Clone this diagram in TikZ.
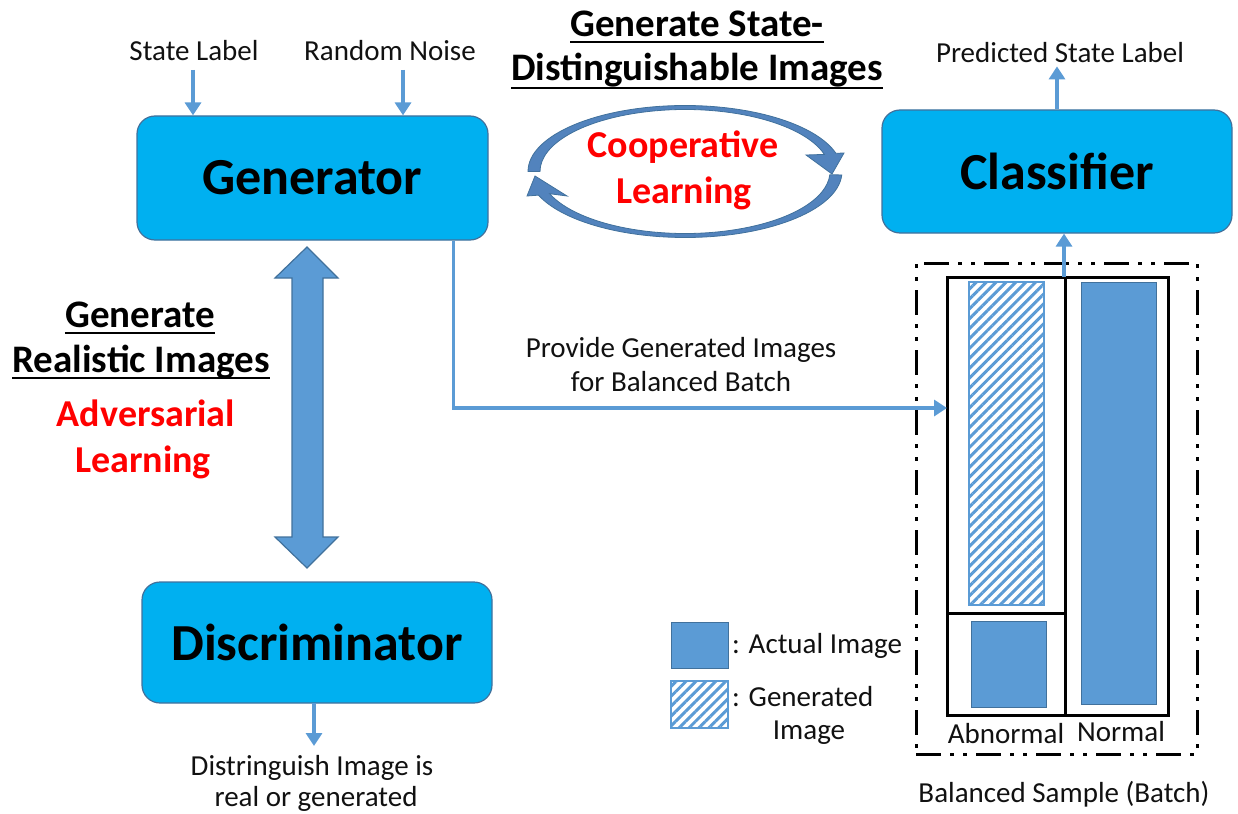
\documentclass[tikz,border=0pt]{standalone}
\usepackage{fontspec}
\setmainfont{Carlito}
\usetikzlibrary{arrows.meta,patterns.meta,calc}
\definecolor{boxfill}{HTML}{00B0F0}
\definecolor{boxedge}{HTML}{41719C}
\definecolor{flowblue}{HTML}{5B9BD5}
\definecolor{coopblue}{HTML}{5283BD}
\definecolor{hotred}{HTML}{FF0000}
\definecolor{ink}{HTML}{111111}
\begin{document}
\begin{tikzpicture}[x=1pt,y=-1pt,
  block/.style={draw=boxedge, line width=1.2pt, fill=boxfill, rounded corners=18pt,
    font=\fontsize{52}{60}\selectfont\bfseries, text=black, inner sep=0},
  lbl/.style={font=\fontsize{29}{34}\selectfont, text=ink, inner sep=0, anchor=base},
  head/.style={font=\fontsize{39}{46}\selectfont\bfseries, text=black, inner sep=0, anchor=base},
  redtxt/.style={font=\fontsize{38}{46}\selectfont\bfseries, text=hotred, inner sep=0, anchor=base},
  uline/.style={draw=black, line width=2.4pt},
  flow/.style={draw=flowblue, line width=3.5pt, -{Triangle[width=16pt,length=13pt]}},
  solidimg/.style={fill=flowblue, draw=boxedge, line width=1pt},
  hatchimg/.style={draw=flowblue, line width=1.5pt,
    pattern={Lines[angle=45,distance=7pt,line width=3pt]}, pattern color=flowblue},
  batchline/.style={draw=black, line width=3pt},
  coop/.style={fill=coopblue, draw=boxedge, line width=0.8pt},
  bigarrow/.style={fill=flowblue, draw=boxedge, line width=1.2pt},
]
\useasboundingbox (0,0) rectangle (1238,813);

% --- main blocks
\node[block, minimum width=351pt, minimum height=124pt] (gen) at (312.5,178) {Generator};
\node[block, minimum width=350pt, minimum height=123pt] (cls) at (1057,171.5) {Classifier};
\node[block, minimum width=350pt, minimum height=121pt] (dis) at (317,642.5) {Discriminator};

% --- generator inputs
\node[lbl] (slabel) at (194,61) {State Label};
\node[lbl] (rnoise) at (390,61) {Random Noise};
\coordinate (slin) at (193,70);
\coordinate (rnin) at (403,70);
\draw[flow] (slin) -- (slin |- gen.north);
\draw[flow] (rnin) -- (rnin |- gen.north);

% --- classifier output
\node[lbl] (pred) at (1060,63) {Predicted State Label};
\draw[flow] (cls.north) -- ++(0,-43);

% --- cooperative learning loop
\coordinate (cc) at (685,171.5);
\fill[coop] ($(cc)+(180:157 and 66)$) arc[start angle=180,end angle=344,x radius=157,y radius=66]
  -- (844,153) -- (832,174) -- (806,155)
  -- ($(cc)+(344:145 and 62)$) arc[start angle=344,end angle=180,x radius=145,y radius=62] -- cycle;
\fill[coop] ($(cc)+(3:157 and 66)$) arc[start angle=3,end angle=159,x radius=157,y radius=66]
  -- (527,196) -- (535,176) -- (567,196)
  -- ($(cc)+(159:145 and 62)$) arc[start angle=159,end angle=3,x radius=145,y radius=62] -- cycle;
\node[redtxt] (c1) at (683,158) {Cooperative};
\node[redtxt] (c2) at (684,203) {Learning};

% --- top heading
\node[head] (h1) at (697,37) {Generate State-};
\node[head] (h2) at (697,81) {Distinguishable Images};
\draw[uline] ([yshift=-5pt]h1.base west) -- ([yshift=-5pt]h1.base east);
\draw[uline] ([yshift=-7pt]h2.base west) -- ([yshift=-7pt]h2.base east);

% --- left heading
\node[head] (g1) at (140,327) {Generate};
\node[head] (g2) at (141,372) {Realistic Images};
\draw[uline] ([yshift=-6pt]g1.base west) -- ([yshift=-6pt]g1.base east);
\draw[uline] ([yshift=-6pt]g2.base west) -- ([yshift=-6pt]g2.base east);
\node[redtxt] (a1) at (146,426) {Adversarial};
\node[redtxt] (a2) at (143,472) {Learning};

% --- adversarial double arrow between generator and discriminator
\coordinate (dtop) at (307,247);
\coordinate (dbot) at (307,568);
\filldraw[bigarrow] (dtop) -- ++(31,31) -- ++(-15,0) -- ++(0,259) -- ++(15,0)
  -- (dbot) -- ++(-32,-31) -- ++(17,0) -- ++(0,-259) -- ++(-17,0) -- cycle;

% --- discriminator output
\coordinate (disout) at (314,703);
\draw[flow] (disout) -- ++(0,43);
\node[lbl] (d1) at (312,775) {Distringuish Image is};
\node[lbl] (d2) at (316,806) {real or generated};

% --- balanced batch
\node[draw=black, line width=3pt,
  dash pattern=on 25pt off 9pt on 4pt off 9pt on 4pt off 9pt,
  minimum width=281pt, minimum height=491pt, inner sep=0] (sample) at (1056.5,508.5) {};
\node[batchline, draw, minimum width=221pt, minimum height=438pt, inner sep=0] (batch) at (1057.5,496) {};
\draw[batchline] (1065,277) -- (1065,715);
\draw[batchline] (947,613) -- (1065,613);
\filldraw[hatchimg] (969,282) rectangle (1044,605);
\filldraw[solidimg] (971,621) rectangle (1046,707);
\filldraw[solidimg] (1081,282) rectangle (1156,704);
\node[lbl] (abn) at (1006,743) {Abnormal};
\node[lbl] (nor) at (1121,741) {Normal};
\node[lbl] (bal) at (1064,802) {Balanced Sample (Batch)};

% --- generated images into the batch
\coordinate (batchin) at (947,408);
\draw[flow] ([xshift=-35pt]gen.south east) |- (batchin);
\node[lbl] (p1) at (681,357) {Provide Generated Images};
\node[lbl] (p2) at (681,391) {for Balanced Batch};

% --- batch into classifier
\coordinate (clsin) at (1064,277);
\draw[flow] (clsin) -- (clsin |- cls.south);

% --- legend
\filldraw[solidimg] (671,622) rectangle (728,668);
\filldraw[hatchimg] (671,681) rectangle (728,728);
\node[lbl, anchor=base west] (lg1) at (732,653) {: Actual Image};
\node[lbl, anchor=base west] (lg2) at (732,706) {: Generated};
\node[lbl] (lg3) at (809,739) {Image};
\end{tikzpicture}
\end{document}
